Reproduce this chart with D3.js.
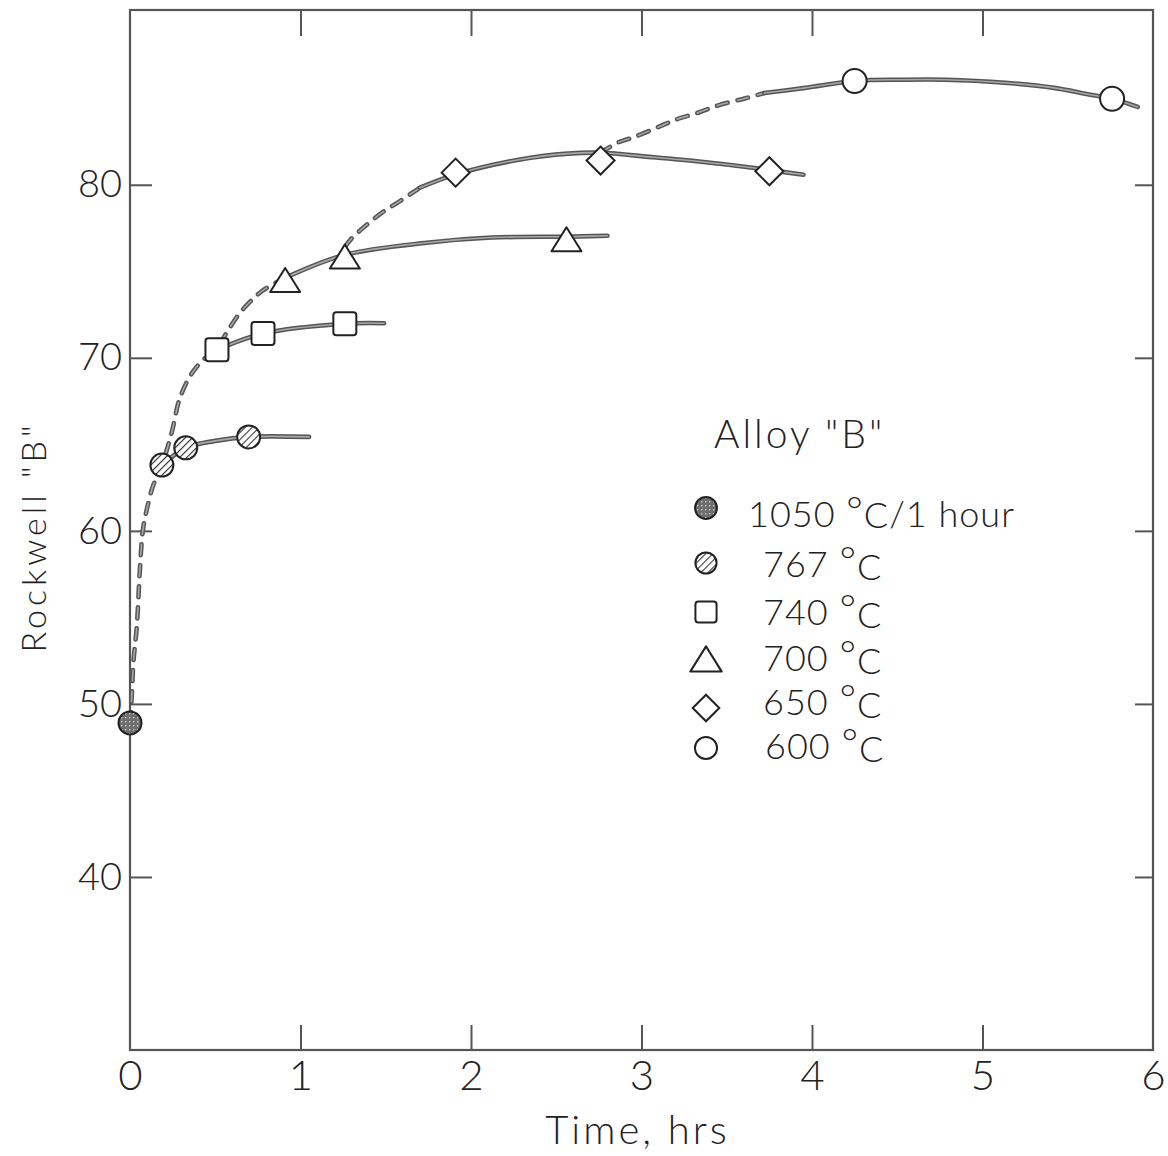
<!DOCTYPE html>
<html>
<head>
<meta charset="utf-8">
<script src="https://cdn.jsdelivr.net/npm/d3@7"></script>
<style>
  html, body { margin: 0; padding: 0; background: #fff; }
  svg { display: block; }
  text { font-family: "Lato", "Open Sans", "DejaVu Sans", sans-serif; font-weight: 300; fill: #222; }
</style>
</head>
<body>
<svg id="chart" width="1168" height="1156"></svg>
<script>
// ---------------- data ----------------
const xTickValues = [0, 1, 2, 3, 4, 5, 6];
const yTickValues = [40, 50, 60, 70, 80];
const xLabel = "Time, hrs";
const yLabel = "Rockwell \"B\"";
const legendTitle = "Alloy \"B\"";
const seriesKeys = ["s1050", "s767", "s740", "s700", "s650", "s600"];
const seriesNumbers = ["1050", "767", "740", "700", "650", "600"];
const seriesSuffix = ["/1 hour", "", "", "", "", ""];

// measured points (markers)
const pts1050X = [0.0];
const pts1050Y = [48.9];
const pts767X = [0.187, 0.327, 0.696];
const pts767Y = [63.8, 64.8, 65.43];
const pts740X = [0.51, 0.78, 1.26];
const pts740Y = [70.46, 71.4, 71.97];
const pts700X = [0.91, 1.26, 2.56];
const pts700Y = [74.5, 75.85, 76.85];
const pts650X = [1.91, 2.76, 3.75];
const pts650Y = [80.7, 81.4, 80.78];
const pts600X = [4.25, 5.76];
const pts600Y = [86.0, 84.97];

// solid curves drawn through each series
const c767X = [0.187, 0.327, 0.50, 0.696, 1.05];
const c767Y = [63.8, 64.8, 65.2, 65.43, 65.43];
const c740X = [0.51, 0.78, 1.26, 1.49];
const c740Y = [70.46, 71.4, 71.97, 72.0];
const c700X = [0.91, 1.26, 1.74, 2.12, 2.56, 2.80];
const c700Y = [74.62, 75.95, 76.65, 76.95, 77.0, 77.05];
const c650X = [1.70, 1.91, 2.28, 2.57, 2.76, 3.06, 3.35, 3.64, 3.75, 3.95];
const c650Y = [79.83, 80.6, 81.45, 81.8, 81.85, 81.6, 81.33, 81.0, 80.85, 80.58];
const c600X = [3.72, 3.96, 4.25, 4.54, 4.78, 5.13, 5.42, 5.61, 5.76, 5.91];
const c600Y = [85.3, 85.6, 86.0, 86.07, 86.07, 85.9, 85.6, 85.25, 84.97, 84.5];

// dashed envelope (three segments)
const envAX = [0.0, 0.01, 0.02, 0.04, 0.058, 0.075, 0.10, 0.135, 0.187, 0.245, 0.29, 0.35, 0.41, 0.51, 0.57, 0.63, 0.70, 0.78, 0.91];
const envAY = [48.9, 50.4, 52.4, 54.5, 57.75, 60.0, 61.3, 62.6, 63.8, 65.7, 67.6, 68.9, 69.7, 70.6, 71.5, 72.4, 73.2, 73.9, 74.62];
const envBX = [1.26, 1.30, 1.39, 1.48, 1.59, 1.70];
const envBY = [76.4, 76.9, 77.7, 78.4, 79.1, 79.83];
const envCX = [2.76, 2.86, 2.96, 3.09, 3.20, 3.33, 3.46, 3.61, 3.72];
const envCY = [81.85, 82.43, 82.77, 83.3, 83.76, 84.16, 84.62, 85.0, 85.3];

// ---------------- layout ----------------
const svg = d3.select("#chart");
const L = 130, R = 1153, T = 10, B = 1050;
const x = d3.scaleLinear().domain([0, 6]).range([L, R]);
const y = d3.scaleLinear().domain([30, 90.1]).range([B, T]);
const zip = (xs, ys) => xs.map((v, i) => [v, ys[i]]);

// hatch pattern
const defs = svg.append("defs");
const hatch = defs.append("pattern").attr("id", "hatch")
  .attr("patternUnits", "userSpaceOnUse").attr("width", 5).attr("height", 5)
  .attr("patternTransform", "rotate(45)");
hatch.append("rect").attr("width", 5).attr("height", 5).attr("fill", "#fff");
hatch.append("line").attr("x1", 0).attr("y1", 0).attr("x2", 0).attr("y2", 5)
  .attr("stroke", "#333").attr("stroke-width", 2.2);
const speck = defs.append("pattern").attr("id", "speck")
  .attr("patternUnits", "userSpaceOnUse").attr("width", 4).attr("height", 4);
speck.append("rect").attr("width", 4).attr("height", 4).attr("fill", "#6e6e6e");
speck.append("rect").attr("x", 1).attr("y", 1).attr("width", 1.4).attr("height", 1.4).attr("fill", "#c8c8c8");

// ---------------- frame & axes ----------------
const frameColor = "#555";
svg.append("rect").attr("x", L).attr("y", T).attr("width", R - L).attr("height", B - T)
  .attr("fill", "none").attr("stroke", frameColor).attr("stroke-width", 2.2);

const inner = xTickValues.filter(v => v > 0 && v < 6);
const gB = svg.append("g").attr("transform", `translate(0,${B})`)
  .call(d3.axisBottom(x).tickValues(xTickValues).tickSize(0).tickPadding(10).tickFormat(d3.format("d")));
gB.select(".domain").remove();
gB.selectAll("text").style("font-size", "42px").attr("dy", "0.72em");

const gBt = svg.append("g").attr("transform", `translate(0,${B})`)
  .call(d3.axisBottom(x).tickValues(inner).tickSizeInner(-25).tickSizeOuter(0).tickFormat(""));
gBt.select(".domain").remove();
const gT = svg.append("g").attr("transform", `translate(0,${T})`)
  .call(d3.axisTop(x).tickValues(inner).tickSizeInner(-26).tickSizeOuter(0).tickFormat(""));
gT.select(".domain").remove();

const gL = svg.append("g").attr("transform", `translate(${L},0)`)
  .call(d3.axisLeft(y).tickValues(yTickValues).tickSizeInner(-22).tickSizeOuter(0).tickPadding(8).tickFormat(d3.format("d")));
gL.select(".domain").remove();
gL.selectAll("text").style("font-size", "38px").attr("x", -8);
const gR = svg.append("g").attr("transform", `translate(${R},0)`)
  .call(d3.axisRight(y).tickValues(yTickValues).tickSizeInner(-18).tickSizeOuter(0).tickFormat(""));
gR.select(".domain").remove();
svg.selectAll(".tick line").attr("stroke", frameColor).attr("stroke-width", 2);

// axis titles
svg.append("text").attr("x", (L + R) / 2 - 4).attr("y", 1144)
  .attr("text-anchor", "middle").style("font-size", "40px").style("letter-spacing", "3px")
  .text(xLabel);
svg.append("text").attr("transform", "translate(46,537) rotate(-90)")
  .attr("text-anchor", "middle").style("font-size", "34px").style("letter-spacing", "4px")
  .text(yLabel);

// ---------------- curves ----------------
const line = d3.line().x(d => x(d[0])).y(d => y(d[1])).curve(d3.curveCatmullRom.alpha(0.5));
function drawCurve(data, dashed) {
  const g = svg.append("g");
  g.append("path").attr("d", line(data)).attr("fill", "none")
    .attr("stroke", "#555").attr("stroke-width", 4.6).attr("stroke-linecap", "round")
    .attr("stroke-dasharray", dashed ? "11,10" : null);
  g.append("path").attr("d", line(data)).attr("fill", "none")
    .attr("stroke", "#a8a8a8").attr("stroke-width", 1.6).attr("stroke-linecap", "round")
    .attr("stroke-dasharray", dashed ? "11,10" : null);
}
drawCurve(zip(envAX, envAY), true);
drawCurve(zip(envBX, envBY), true);
drawCurve(zip(envCX, envCY), true);
drawCurve(zip(c767X, c767Y), false);
drawCurve(zip(c740X, c740Y), false);
drawCurve(zip(c700X, c700Y), false);
drawCurve(zip(c650X, c650Y), false);
drawCurve(zip(c600X, c600Y), false);

// ---------------- markers ----------------
function marker(g, kind, cx, cy, s) {
  let el;
  if (kind === "s1050") {
    el = g.append("circle").attr("cx", cx).attr("cy", cy).attr("r", 11.5 * s).attr("fill", "url(#speck)");
  } else if (kind === "s767") {
    el = g.append("circle").attr("cx", cx).attr("cy", cy).attr("r", 11.5 * s).attr("fill", "url(#hatch)");
  } else if (kind === "s740") {
    const h = 11.5 * s;
    el = g.append("rect").attr("x", cx - h).attr("y", cy - h).attr("width", 2 * h).attr("height", 2 * h)
      .attr("rx", 3).attr("fill", "#fff");
  } else if (kind === "s700") {
    const w = 15 * s, h = 12 * s;
    el = g.append("path").attr("d", `M${cx},${cy - h}L${cx + w},${cy + h}L${cx - w},${cy + h}Z`)
      .attr("fill", "#fff").attr("stroke-linejoin", "round");
  } else if (kind === "s650") {
    const h = 14 * s;
    el = g.append("path").attr("d", `M${cx},${cy - h}L${cx + h},${cy}L${cx},${cy + h}L${cx - h},${cy}Z`)
      .attr("fill", "#fff");
  } else {
    el = g.append("circle").attr("cx", cx).attr("cy", cy).attr("r", 12 * s).attr("fill", "#fff");
  }
  el.attr("stroke", "#222").attr("stroke-width", 2);
}
const ptsByKey = {
  s1050: zip(pts1050X, pts1050Y), s767: zip(pts767X, pts767Y), s740: zip(pts740X, pts740Y),
  s700: zip(pts700X, pts700Y), s650: zip(pts650X, pts650Y), s600: zip(pts600X, pts600Y)
};
const gm = svg.append("g");
seriesKeys.forEach(k => ptsByKey[k].forEach(p => marker(gm, k, x(p[0]), y(p[1]), 1)));

// ---------------- legend ----------------
const lg = svg.append("g");
lg.append("text").attr("x", 714).attr("y", 448).style("font-size", "39px").style("letter-spacing", "3px")
  .text(legendTitle);
const legendBaselines = [527, 577, 625, 671, 715, 759];
const legendSymbolY = [508, 563, 612, 659, 708, 748];
const legendTextX = [748, 763, 763, 763, 763, 765];
const legendScale = [0.95, 0.92, 0.92, 1.05, 0.95, 0.92];
seriesKeys.forEach((k, i) => {
  marker(lg, k, 706, legendSymbolY[i], legendScale[i]);
  const t = lg.append("text").attr("x", legendTextX[i]).attr("y", legendBaselines[i])
    .style("font-size", "36px").style("letter-spacing", "1px");
  t.append("tspan").text(seriesNumbers[i] + " ");
  t.append("tspan").attr("dy", -2).style("font-size", "40px").text("°");
  t.append("tspan").attr("dy", i === 0 ? 3 : 5).text("C");
  if (seriesSuffix[i]) {
    t.append("tspan").attr("dy", -1).text(seriesSuffix[i]);
  }
});
</script>
</body>
</html>
